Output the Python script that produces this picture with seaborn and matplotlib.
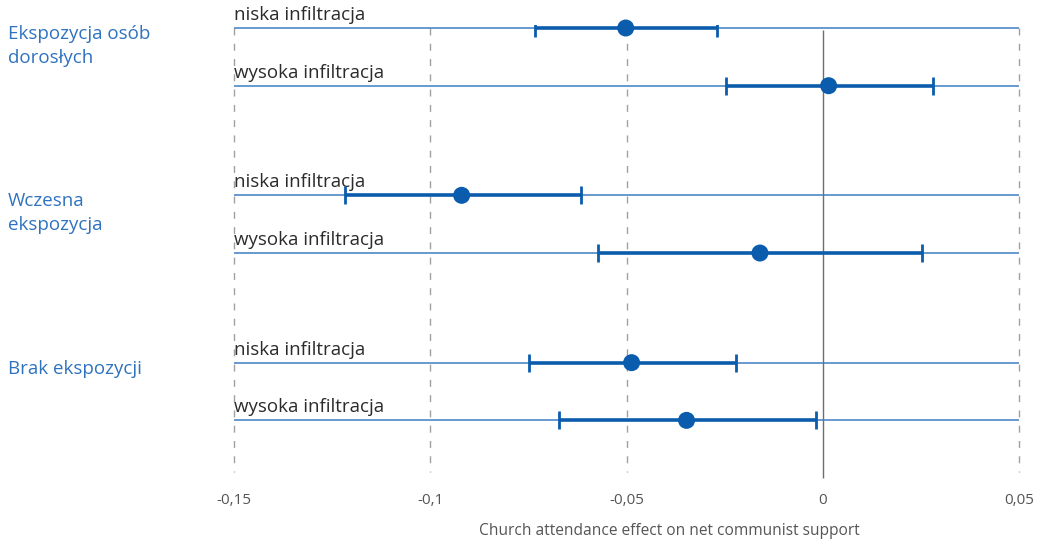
import matplotlib
matplotlib.use("Agg")
import matplotlib.pyplot as plt
import seaborn as sns
import pandas as pd

# Estimates with confidence intervals, by exposure group and infiltration level
groups = ["Ekspozycja osób\ndorosłych", "Wczesna\nekspozycja", "Brak ekspozycji"]
levels = ["niska infiltracja", "wysoka infiltracja"]
estimate = [-0.0502, 0.0015, -0.0920, -0.0160, -0.0487, -0.0347]
ci_low = [-0.0734, -0.0247, -0.1218, -0.0573, -0.0749, -0.0673]
ci_high = [-0.0270, 0.0280, -0.0617, 0.0252, -0.0222, -0.0018]
xticks = [-0.15, -0.1, -0.05, 0, 0.05]
xtick_labels = ["-0,15", "-0,1", "-0,05", "0", "0,05"]
xlabel = "Church attendance effect on net communist support"

# Vertical position of each row: two rows per group, wider gap between groups
row_step = 1.0
group_step = 2.9
ypos = [g * group_step + r * row_step for g in range(len(groups)) for r in range(len(levels))]

df = pd.DataFrame({
    "group": [g for g in groups for _ in levels],
    "level": levels * len(groups),
    "estimate": estimate,
    "lo": ci_low,
    "hi": ci_high,
    "y": ypos,
})

sns.set_theme(style="white")
plt.rcParams["font.family"] = ["Open Sans", "DejaVu Sans"]

DOT = "#0b5cad"
ROW = "#3f7fc2"
LABEL_BLUE = "#2f72bf"
GRID = "#a0a0a0"
TEXT = "#2b2b2b"
UNIT = 57.7  # pixels per row step

fig = plt.figure(figsize=(10.5, 5.4), dpi=100)
ax = fig.add_axes([234 / 1050, 1 - 478 / 540, 785 / 1050, 453 / 540])

xmin, xmax = xticks[0], xticks[-1]
ytop = -3 / UNIT
ybot = (478 - 28) / UNIT
ax.set_xlim(xmin, xmax)
ax.set_ylim(ybot, ytop)

# Grid: dashed verticals, solid zero line
for xv in xticks:
    if xv == 0:
        ax.vlines(0, ypos[0] + 0.03, ybot, color="#6e6e6e", lw=1.0, zorder=1, clip_on=False)
    else:
        ax.vlines(xv, ypos[0], ybot - 0.1, color=GRID, lw=1.0, linestyles=(0, (5, 6)),
                  zorder=1, clip_on=False)

# Row baselines with their labels
for _, r in df.iterrows():
    ax.hlines(r["y"], xmin, xmax, color=ROW, lw=1.1, zorder=2, clip_on=False)
    ax.text(xmin, r["y"] - 0.07, r["level"], ha="left", va="bottom", fontsize=13.5,
            color=TEXT)

# Confidence intervals
ax.errorbar(df["estimate"], df["y"],
            xerr=[df["estimate"] - df["lo"], df["hi"] - df["estimate"]],
            fmt="none", ecolor=DOT, elinewidth=2.6, capsize=6.5, capthick=2.0, zorder=3)

# Point estimates
sns.scatterplot(data=df, x="estimate", y="y", ax=ax, s=150, color=DOT,
                edgecolor="none", zorder=4, legend=False)
for c in ax.collections:
    c.set_clip_on(False)

# Group labels in the left margin
for g, name in enumerate(groups):
    y0 = ypos[g * len(levels)]
    fig.text(8 / 1050, 1 - (y0 * UNIT + 25) / 540, name, ha="left", va="top",
             fontsize=13.5, color=LABEL_BLUE, linespacing=1.4)

ax.set_xticks(xticks)
ax.set_xticklabels(xtick_labels, fontsize=11, color="#555555")
ax.set_yticks([])
ax.tick_params(axis="x", length=0, pad=11)
ax.set_xlabel(xlabel, fontsize=11.2, color="#555555")
ax.xaxis.set_label_coords((669 - 234) / 785, -0.1)
ax.set_ylabel("")
for s in ax.spines.values():
    s.set_visible(False)

fig.savefig("out.png", dpi=100, facecolor="white")
